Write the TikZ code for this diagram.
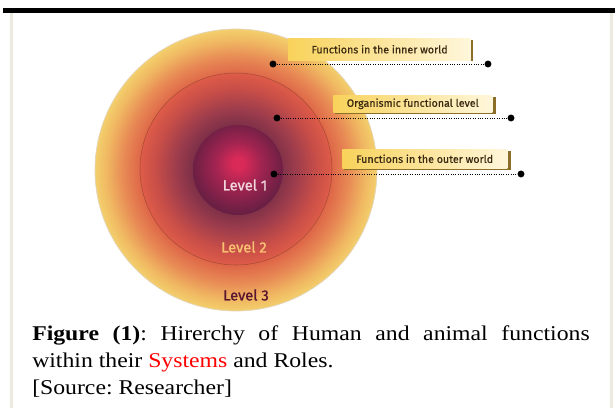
\documentclass[tikz,border=0pt]{standalone}
\usepackage{fontspec}
\usepackage{graphicx}
\setmainfont{Liberation Serif}
\newfontfamily\labelfont{Fira Sans}[FakeBold=0.6]
\newfontfamily\levelfont{Fira Sans}[FakeBold=1.2]

% palette
\definecolor{framegray}{HTML}{ECEADF}
\definecolor{ringA}{HTML}{DE6648}
\definecolor{ringB}{HTML}{E88A55}
\definecolor{ringC}{HTML}{F0B862}
\definecolor{ringD}{HTML}{F3CF6C}
\definecolor{midA}{HTML}{7E3048}
\definecolor{midB}{HTML}{9C3C4C}
\definecolor{midC}{HTML}{C84E48}
\definecolor{midD}{HTML}{DE5C48}
\definecolor{coreA}{HTML}{DA2A58}
\definecolor{coreB}{HTML}{A02450}
\definecolor{coreC}{HTML}{5C1E40}
\definecolor{boxL}{HTML}{F8D25A}
\definecolor{boxR}{HTML}{FFF7DC}
\definecolor{boxShadow}{HTML}{8C6E2A}
\definecolor{boxText}{HTML}{3A2A12}
\definecolor{lvlOne}{HTML}{F2D6DC}
\definecolor{lvlTwo}{HTML}{F8C272}
\definecolor{lvlThree}{HTML}{5A1530}

% radial fills of the three discs (edge of each disc at 25bp)
\pgfdeclareradialshading{outerring}{\pgfpoint{0bp}{0bp}}{%
  color(0bp)=(ringA); color(17bp)=(ringA); color(20bp)=(ringB);
  color(23bp)=(ringC); color(25bp)=(ringD); color(50bp)=(ringD)}
\pgfdeclareradialshading{middisc}{\pgfpoint{0bp}{0bp}}{%
  color(0bp)=(midA); color(11.5bp)=(midA); color(15.5bp)=(midB);
  color(21bp)=(midC); color(25bp)=(midD); color(50bp)=(midD)}
\pgfdeclareradialshading{corecisc}{\pgfpoint{0bp}{4bp}}{%
  color(0bp)=(coreA); color(3bp)=(coreA); color(13bp)=(coreB);
  color(29bp)=(coreC); color(50bp)=(coreC)}

\tikzset{
  disc/.style={circle, inner sep=0pt},
  tag/.style={inner sep=0pt, left color=boxL, right color=boxR,
    text=boxText, font=\labelfont\fontsize{8}{9}\selectfont},
  tagshadow/.style={fill=boxShadow},
  pin/.style={circle, fill=black, inner sep=0pt, minimum size=5.2pt},
  conn/.style={line width=0.6pt, dash pattern=on 0.7pt off 1.1pt},
  lvl/.style={font=\levelfont\fontsize{11}{13}\selectfont},
}

\begin{document}
\begin{tikzpicture}[x=0.75pt,y=-0.75pt]
\useasboundingbox (0,0) rectangle (615,408);
\fill[white] (0,0) rectangle (615,408);

% page frame
\fill[framegray] (10,13) rectangle (12.5,408);
\fill[framegray] (610,13) rectangle (612.5,408);
\fill[black] (3,8) rectangle (615,13);

% concentric levels
\node[disc, minimum size=211.5pt, shading=outerring, draw=framegray!80!brown,
      line width=0.5pt] (outer) at (236,170) {};
\node[disc, minimum size=144pt, shading=middisc, draw=ringA!75!black,
      line width=0.4pt] (middle) at (236,169) {};
\node[disc, minimum size=67.5pt, shading=corecisc] (core) at (238,170) {};

\node[lvl, text=lvlOne] (l1) at (245,185) {Level 1};
\node[lvl, text=lvlTwo] (l2) at (244,247) {Level 2};
\node[lvl, text=lvlThree] (l3) at (246,295) {Level 3};

% label tags with drop shadows
\fill[tagshadow] (290,40) rectangle (473,61);
\node[tag, minimum width=137pt, minimum height=16.5pt, anchor=north west]
  (t1) at (288,38) {Functions in the inner world};
\fill[tagshadow] (335,97) rectangle (496,113.5);
\node[tag, minimum width=119.25pt, minimum height=12.75pt, anchor=north west]
  (t2) at (333,95) {Organismic functional level};
\fill[tagshadow] (344,151) rectangle (511,169.5);
\node[tag, minimum width=123.75pt, minimum height=14.25pt, anchor=north west]
  (t3) at (342,149) {Functions in the outer world};

% pins and dotted leaders
\node[pin] (p1a) at (273,64) {};
\node[pin] (p1b) at (488,64) {};
\node[pin] (p2a) at (277,118) {};
\node[pin] (p2b) at (511,118) {};
\node[pin] (p3a) at (274,174) {};
\node[pin] (p3b) at (521,174) {};
\draw[conn] (p1a) -- (p1b);
\draw[conn] (p2a) -- (p2b);
\draw[conn] (p3a) -- (p3b);

% caption
\node[anchor=base west, inner sep=0pt] (cap) at (32,340) {%
  \scalebox{1.13}[1]{\parbox[t]{370pt}{\fontsize{15.75}{20.25}\selectfont
  \frenchspacing
  \textbf{Figure (1)}: Hirerchy of Human and animal functions\linebreak
  within their \textcolor{red}{Systems} and Roles.\newline
  {[Source: Researcher]}}}};
\end{tikzpicture}
\end{document}
